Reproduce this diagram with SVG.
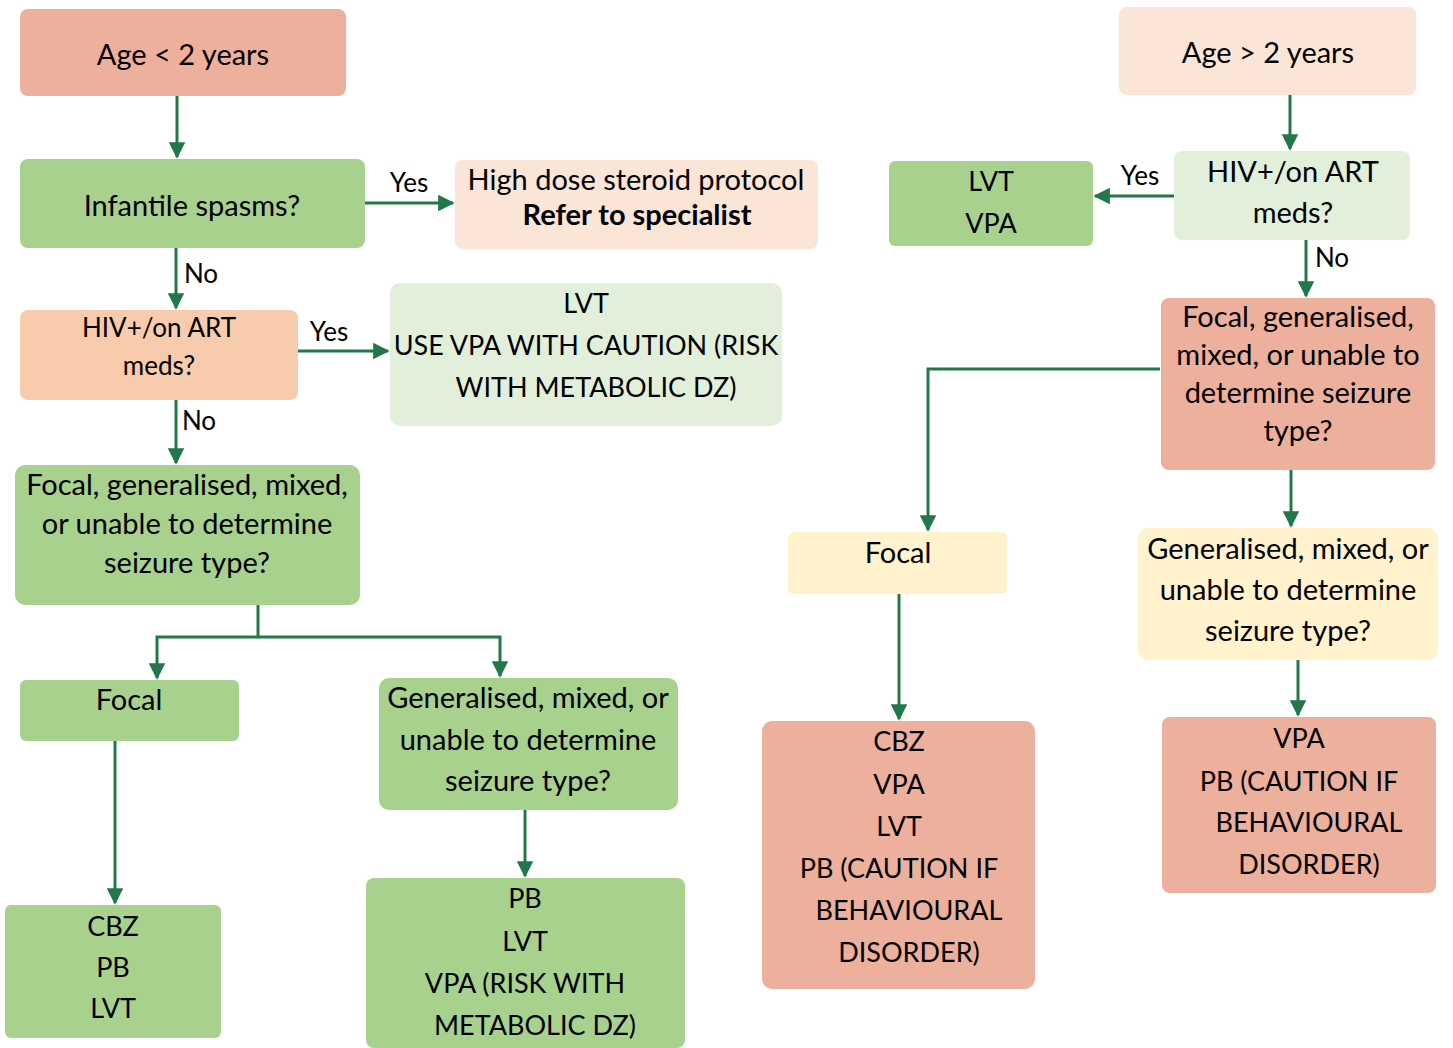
<svg xmlns="http://www.w3.org/2000/svg" width="1453" height="1048" viewBox="0 0 1453 1048">
<style>
text{font-family:Lato,"Liberation Sans",sans-serif;font-size:29px;fill:#000;text-anchor:middle}
.cap{font-size:27px}
.sm{font-size:26px}
.lbl{font-size:26px}
.b{font-weight:bold}
.ln{fill:none;stroke:#22774B;stroke-width:3}
.salmon{fill:#EDB09C}
.green{fill:#A9D18E}
.peach{fill:#FBE5D6}
.lgreen{fill:#E2EFDA}
.orange{fill:#F8CBAD}
.yellow{fill:#FFF2CC}
</style>
<defs>
<marker id="ah" viewBox="0 0 10 10" refX="9" refY="5" markerWidth="5.5" markerHeight="5.5" orient="auto" markerUnits="strokeWidth">
<path d="M0,0 L10,5 L0,10 Z" fill="#22774B"/>
</marker>
</defs>
<rect width="1453" height="1048" fill="#fff"/>
<g id="connectors">
<path class="ln" d="M177,96 V157" marker-end="url(#ah)"/>
<path class="ln" d="M365,203 H453" marker-end="url(#ah)"/>
<path class="ln" d="M176,248 V308" marker-end="url(#ah)"/>
<path class="ln" d="M298,351 H388" marker-end="url(#ah)"/>
<path class="ln" d="M176,400 V463" marker-end="url(#ah)"/>
<path class="ln" d="M258,605 V637 H157 V678" marker-end="url(#ah)"/>
<path class="ln" d="M258,637 H500 V676" marker-end="url(#ah)"/>
<path class="ln" d="M115,741 V903" marker-end="url(#ah)"/>
<path class="ln" d="M525,810 V876" marker-end="url(#ah)"/>
<path class="ln" d="M1290,95 V149" marker-end="url(#ah)"/>
<path class="ln" d="M1174,196 H1095" marker-end="url(#ah)"/>
<path class="ln" d="M1306,240 V296" marker-end="url(#ah)"/>
<path class="ln" d="M1160,369 H928 V530" marker-end="url(#ah)"/>
<path class="ln" d="M1291,470 V526" marker-end="url(#ah)"/>
<path class="ln" d="M899,594 V719" marker-end="url(#ah)"/>
<path class="ln" d="M1298,660 V715" marker-end="url(#ah)"/>
<text class="lbl" x="409" y="192">Yes</text>
<text class="lbl" x="201" y="283">No</text>
<text class="lbl" x="329" y="341">Yes</text>
<text class="lbl" x="199" y="430">No</text>
<text class="lbl" x="1140" y="185">Yes</text>
<text class="lbl" x="1332" y="267">No</text>
</g>
<g id="age-lt2">
<rect class="salmon" x="20" y="9" width="326" height="87" rx="8"/>
<text x="183" y="65">Age &lt; 2 years</text>
</g>
<g id="infantile">
<rect class="green" x="20" y="159" width="345" height="89" rx="8"/>
<text x="192" y="216">Infantile spasms?</text>
</g>
<g id="steroid">
<rect class="peach" x="455" y="160" width="363" height="89" rx="8"/>
<text x="636" y="190">High dose steroid protocol</text>
<text class="b" x="637" y="225">Refer to specialist</text>
</g>
<g id="hiv-left">
<rect class="orange" x="20" y="310" width="278" height="90" rx="8"/>
<text class="sm" x="159" y="337">HIV+/on ART</text>
<text class="sm" x="159" y="375">meds?</text>
</g>
<g id="lvt-caution">
<rect class="lgreen" x="390" y="283" width="392" height="143" rx="10"/>
<text class="cap" x="586" y="313">LVT</text>
<text class="cap" x="586" y="355">USE VPA WITH CAUTION (RISK</text>
<text class="cap" x="596" y="397">WITH METABOLIC DZ)</text>
</g>
<g id="seizure-left">
<rect class="green" x="15" y="465" width="345" height="140" rx="10"/>
<text x="187" y="495">Focal, generalised, mixed,</text>
<text x="187" y="534">or unable to determine</text>
<text x="187" y="573">seizure type?</text>
</g>
<g id="focal-left">
<rect class="green" x="20" y="680" width="219" height="61" rx="6"/>
<text x="129" y="710">Focal</text>
</g>
<g id="gen-left">
<rect class="green" x="379" y="678" width="299" height="132" rx="10"/>
<text x="528" y="708">Generalised, mixed, or</text>
<text x="528" y="750">unable to determine</text>
<text x="528" y="791">seizure type?</text>
</g>
<g id="cbz-left">
<rect class="green" x="5" y="905" width="216" height="133" rx="6"/>
<text class="cap" x="113" y="936">CBZ</text>
<text class="cap" x="113" y="977">PB</text>
<text class="cap" x="113" y="1018">LVT</text>
</g>
<g id="pb-left">
<rect class="green" x="366" y="878" width="319" height="170" rx="8"/>
<text class="cap" x="525" y="908">PB</text>
<text class="cap" x="525" y="951">LVT</text>
<text class="cap" x="525" y="993">VPA (RISK WITH</text>
<text class="cap" x="535" y="1035">METABOLIC DZ)</text>
</g>
<g id="age-gt2">
<rect class="peach" x="1119" y="7" width="297" height="88" rx="8"/>
<text x="1268" y="63">Age &gt; 2 years</text>
</g>
<g id="hiv-right">
<rect class="lgreen" x="1174" y="151" width="236" height="89" rx="8"/>
<text x="1293" y="182">HIV+/on ART</text>
<text x="1293" y="223">meds?</text>
</g>
<g id="lvt-vpa">
<rect class="green" x="889" y="161" width="204" height="85" rx="6"/>
<text class="cap" x="991" y="191">LVT</text>
<text class="cap" x="991" y="233">VPA</text>
</g>
<g id="seizure-right">
<rect class="salmon" x="1161" y="298" width="274" height="172" rx="8"/>
<text x="1298" y="327">Focal, generalised,</text>
<text x="1298" y="365">mixed, or unable to</text>
<text x="1298" y="403">determine seizure</text>
<text x="1298" y="441">type?</text>
</g>
<g id="focal-right">
<rect class="yellow" x="788" y="532" width="219" height="62" rx="6"/>
<text x="898" y="563">Focal</text>
</g>
<g id="gen-right">
<rect class="yellow" x="1138" y="528" width="300" height="132" rx="10"/>
<text x="1288" y="559">Generalised, mixed, or</text>
<text x="1288" y="600">unable to determine</text>
<text x="1288" y="641">seizure type?</text>
</g>
<g id="cbz-right">
<rect class="salmon" x="762" y="721" width="273" height="268" rx="10"/>
<text class="cap" x="899" y="751">CBZ</text>
<text class="cap" x="899" y="794">VPA</text>
<text class="cap" x="899" y="836">LVT</text>
<text class="cap" x="899" y="878">PB (CAUTION IF</text>
<text class="cap" x="909" y="920">BEHAVIOURAL</text>
<text class="cap" x="909" y="962">DISORDER)</text>
</g>
<g id="vpa-right">
<rect class="salmon" x="1162" y="717" width="274" height="176" rx="8"/>
<text class="cap" x="1299" y="748">VPA</text>
<text class="cap" x="1299" y="791">PB (CAUTION IF</text>
<text class="cap" x="1309" y="832">BEHAVIOURAL</text>
<text class="cap" x="1309" y="874">DISORDER)</text>
</g>
</svg>
